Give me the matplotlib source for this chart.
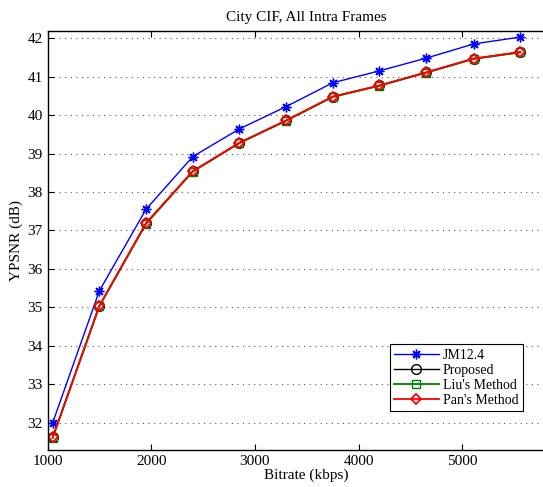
import matplotlib
matplotlib.use("Agg")
import matplotlib.pyplot as plt

# rate-distortion points (bitrate in kbps, luma PSNR in dB)
bitrate = [1050, 1500, 1950, 2400, 2850, 3300, 3750, 4200, 4650, 5110, 5560]
psnr_jm = [32.00, 35.43, 37.55, 38.92, 39.64, 40.22, 40.84, 41.15, 41.48, 41.85, 42.03]
psnr_proposed = [31.62, 35.04, 37.19, 38.54, 39.28, 39.86, 40.48, 40.77, 41.11, 41.47, 41.64]
psnr_liu = [31.61, 35.03, 37.17, 38.53, 39.27, 39.85, 40.47, 40.76, 41.10, 41.46, 41.63]
psnr_pan = [31.62, 35.04, 37.19, 38.54, 39.28, 39.86, 40.48, 40.77, 41.11, 41.47, 41.64]
xtick_vals = [1000, 2000, 3000, 4000, 5000]

plt.rcParams['font.family'] = ['Liberation Serif', 'DejaVu Serif']

W, H = 543, 487
fig = plt.figure(figsize=(W / 100, H / 100), dpi=100)
# axes box in pixels: left 47.5, bottom spine at 449.7, top at 30.5
x0, y_bot, y_top = 47.5, 449.7, 30.5
ax_w = 518.5
ax = fig.add_axes([x0 / W, (H - y_bot) / H, ax_w / W, (y_bot - y_top) / H])

asterisk = (8, 2, 0)
ax.plot(bitrate, psnr_jm, color='blue', marker=asterisk, ms=7, lw=1.0,
        mec='blue', mew=1.0, label='JM12.4')
ax.plot(bitrate, psnr_proposed, color='black', marker='o', ms=7, lw=1.0,
        mfc='none', mec='black', label='Proposed')
ax.plot(bitrate, psnr_liu, color='green', marker='s', ms=6, lw=1.3,
        mfc='none', mec='green', label="Liu's Method")
ax.plot(bitrate, psnr_pan, color='red', marker='D', ms=5.5, lw=1.3,
        mfc='none', mec='red', mew=1.3, label="Pan's Method")

ax.set_xlim(1000, 6000)
ax.set_ylim(31.3, 42.2)
ax.set_xticks(xtick_vals)
ax.set_yticks(range(32, 43))

ax.grid(True, axis='y', linestyle=(0, (1, 4)), color='#555555', lw=0.8)
ax.tick_params(direction='in', top=True, right=False, length=4,
               labelsize=11, width=0.8)
for side in ('left', 'bottom', 'top'):
    ax.spines[side].set_linewidth(1.0)
ax.spines['right'].set_visible(False)

ax.set_title('City CIF, All Intra Frames', fontsize=11, pad=7)
ax.set_xlabel('Bitrate (kbps)', fontsize=11, labelpad=1)
ax.set_ylabel('YPSNR (dB)', fontsize=11, labelpad=3)

leg = ax.legend(loc='lower left', bbox_to_anchor=((390 - x0) / ax_w, (y_bot - 411) / (y_bot - y_top)),
                borderaxespad=0, fontsize=10, handlelength=3.2, handletextpad=0.3,
                labelspacing=0.15, borderpad=0.3, fancybox=False, framealpha=1)
leg.get_frame().set_edgecolor('black')
leg.get_frame().set_linewidth(0.8)

fig.savefig('out.png', dpi=100)
